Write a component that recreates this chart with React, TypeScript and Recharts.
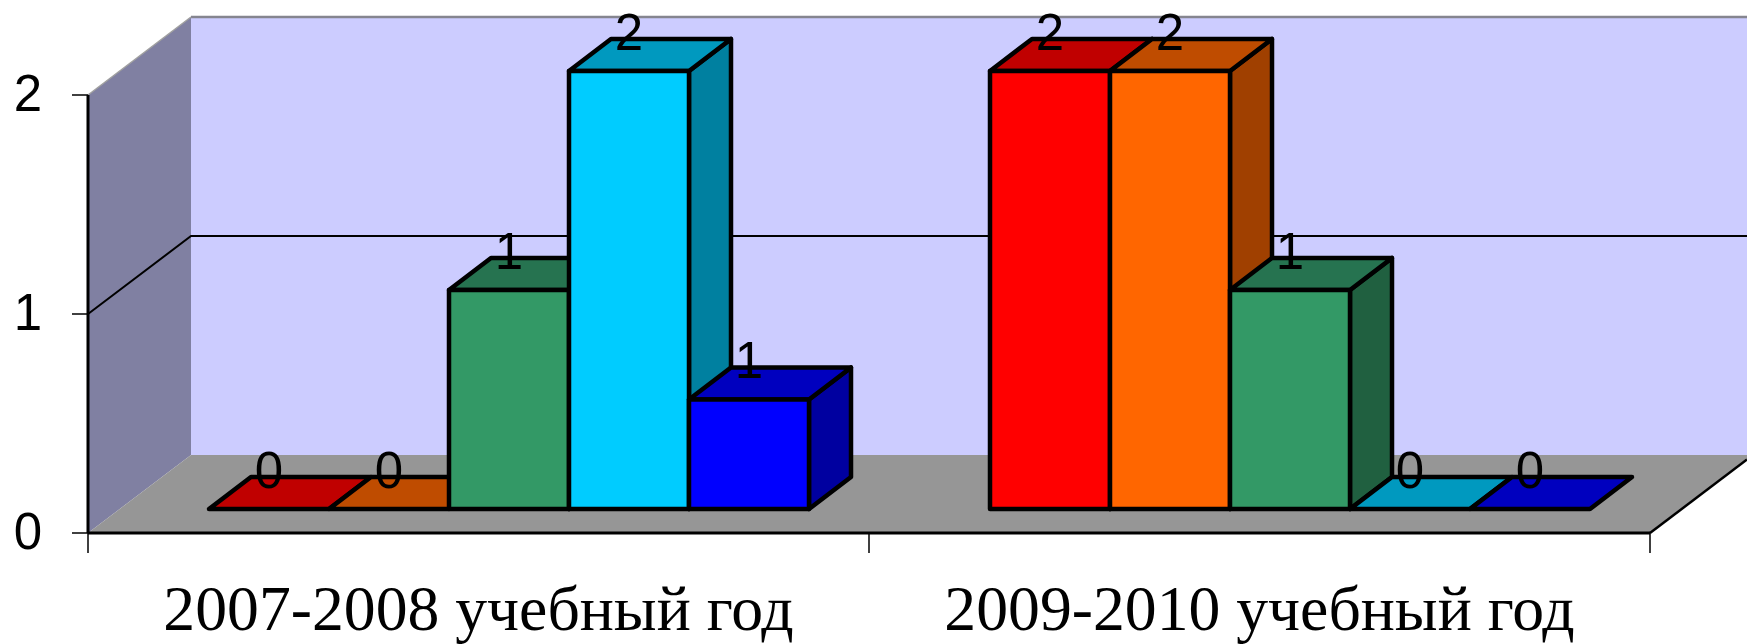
import * as React from "react";
import { BarChart, Bar, XAxis, YAxis, LabelList, Customized } from "recharts";

const categories = ["2007-2008 учебный год", "2009-2010 учебный год"];
const red = [0, 2];
const orange = [0, 2];
const green = [1, 1];
const cyan = [2, 0];
const blue = [0.5, 0];
const yTicks = [0, 1, 2];

const data = categories.map((name, i) => ({
  name,
  red: red[i],
  orange: orange[i],
  green: green[i],
  cyan: cyan[i],
  blue: blue[i],
}));

const seriesList = [
  { key: "red", front: "#FF0000", top: "#C00000", side: "#A00000" },
  { key: "orange", front: "#FF6600", top: "#BF4C00", side: "#A04000" },
  { key: "green", front: "#339966", top: "#267350", side: "#206040" },
  { key: "cyan", front: "#00CCFF", top: "#0099BF", side: "#0080A0" },
  { key: "blue", front: "#0000FF", top: "#0000BF", side: "#0000A0" },
];

const W = 1747;
const H = 644;
const LEFT = 88;
const RIGHT = 1650;
const TOP = 95;
const BOTTOM = 533;

// 3D offsets
const WALL_DX = 103;
const WALL_DY = 78;
const BAR_DX = 30;
const BAR_DY = 24;
const DEPTH_X = 42;
const DEPTH_Y = 32;

const yOf = (v: number) => BOTTOM - ((BOTTOM - TOP) * v) / 2;

function Walls() {
  const backL = LEFT + WALL_DX;
  const backTop = yOf(2) - WALL_DY;
  const backBottom = BOTTOM - WALL_DY;
  const rightY = BOTTOM - ((W - RIGHT) * WALL_DY) / WALL_DX;
  const midX = (LEFT + RIGHT) / 2;
  return (
    <g>
      <rect x={backL} y={backTop} width={W - backL} height={backBottom - backTop} fill="#CCCCFF" />
      <polygon
        points={`${LEFT},${yOf(2)} ${backL},${backTop} ${backL},${backBottom} ${LEFT},${BOTTOM}`}
        fill="#8080A2"
      />
      <polygon
        points={`${LEFT},${BOTTOM} ${backL},${backBottom} ${W},${backBottom} ${W},${rightY} ${RIGHT},${BOTTOM}`}
        fill="#969696"
      />
      <line x1={backL} y1={backTop} x2={W} y2={backTop} stroke="#85858f" strokeWidth={2.5} />
      <line x1={LEFT} y1={yOf(2)} x2={backL} y2={backTop} stroke="#a0a0a0" strokeWidth={1.5} />
      <polyline
        points={`${LEFT},${yOf(1)} ${backL},${yOf(1) - WALL_DY} ${W},${yOf(1) - WALL_DY}`}
        fill="none"
        stroke="#000"
        strokeWidth={2}
      />
      <line x1={RIGHT} y1={BOTTOM} x2={W} y2={rightY} stroke="#000" strokeWidth={2.5} />
      {[LEFT, midX, RIGHT].map((x) => (
        <line key={x} x1={x} y1={BOTTOM} x2={x} y2={BOTTOM + 20} stroke="#000" strokeWidth={1.5} />
      ))}
    </g>
  );
}

function Box3D(props: any) {
  const { x, y, width, height, front, top, side } = props;
  const fx = x + BAR_DX;
  const fy = y - BAR_DY;
  const r = fx + width;
  const b = fy + height;
  const common = { stroke: "#000", strokeWidth: 4.5, strokeLinejoin: "round" as const };
  return (
    <g>
      {height > 0 && (
        <polygon
          points={`${r},${fy} ${r + DEPTH_X},${fy - DEPTH_Y} ${r + DEPTH_X},${b - DEPTH_Y} ${r},${b}`}
          fill={side}
          {...common}
        />
      )}
      <polygon
        points={`${fx},${fy} ${fx + DEPTH_X},${fy - DEPTH_Y} ${r + DEPTH_X},${fy - DEPTH_Y} ${r},${fy}`}
        fill={top}
        {...common}
      />
      {height > 0 && <rect x={fx} y={fy} width={width} height={height} fill={front} {...common} />}
    </g>
  );
}

function ValueLabel(props: any) {
  const { x, y, width, value } = props;
  return (
    <text
      x={x + BAR_DX + width / 2}
      y={y - BAR_DY - 21.5}
      textAnchor="middle"
      fontFamily="Liberation Sans"
      fontSize={51}
      fill="#000"
    >
      {Math.round(value)}
    </text>
  );
}

export default function App() {
  return (
    <div style={{ position: "absolute", left: 0, top: 0, width: W, height: H, background: "#fff" }}>
      <BarChart
        width={W}
        height={H}
        data={data}
        margin={{ top: TOP, right: W - RIGHT, bottom: 0, left: 0 }}
        barCategoryGap={91}
        barGap={0}
      >
        <Customized component={Walls} />
        <XAxis
          dataKey="name"
          height={H - BOTTOM}
          axisLine={{ stroke: "#000", strokeWidth: 3 }}
          tickLine={false}
          tickMargin={46}
          interval={0}
          tick={{ fontFamily: "Liberation Serif", fontSize: 63.7, fill: "#000" }}
        />
        <YAxis
          width={LEFT}
          domain={[0, 2]}
          ticks={yTicks}
          axisLine={{ stroke: "#000", strokeWidth: 3 }}
          tickLine={{ stroke: "#000", strokeWidth: 1.5 }}
          tickSize={16}
          tickMargin={30}
          tick={{ fontFamily: "Liberation Sans", fontSize: 51, fill: "#000", dy: -2 }}
        />
        {seriesList.map((s) => (
          <Bar
            key={s.key}
            dataKey={s.key}
            isAnimationActive={false}
            shape={(p: any) => <Box3D {...p} front={s.front} top={s.top} side={s.side} />}
          >
            <LabelList dataKey={s.key} content={ValueLabel} />
          </Bar>
        ))}
      </BarChart>
    </div>
  );
}
